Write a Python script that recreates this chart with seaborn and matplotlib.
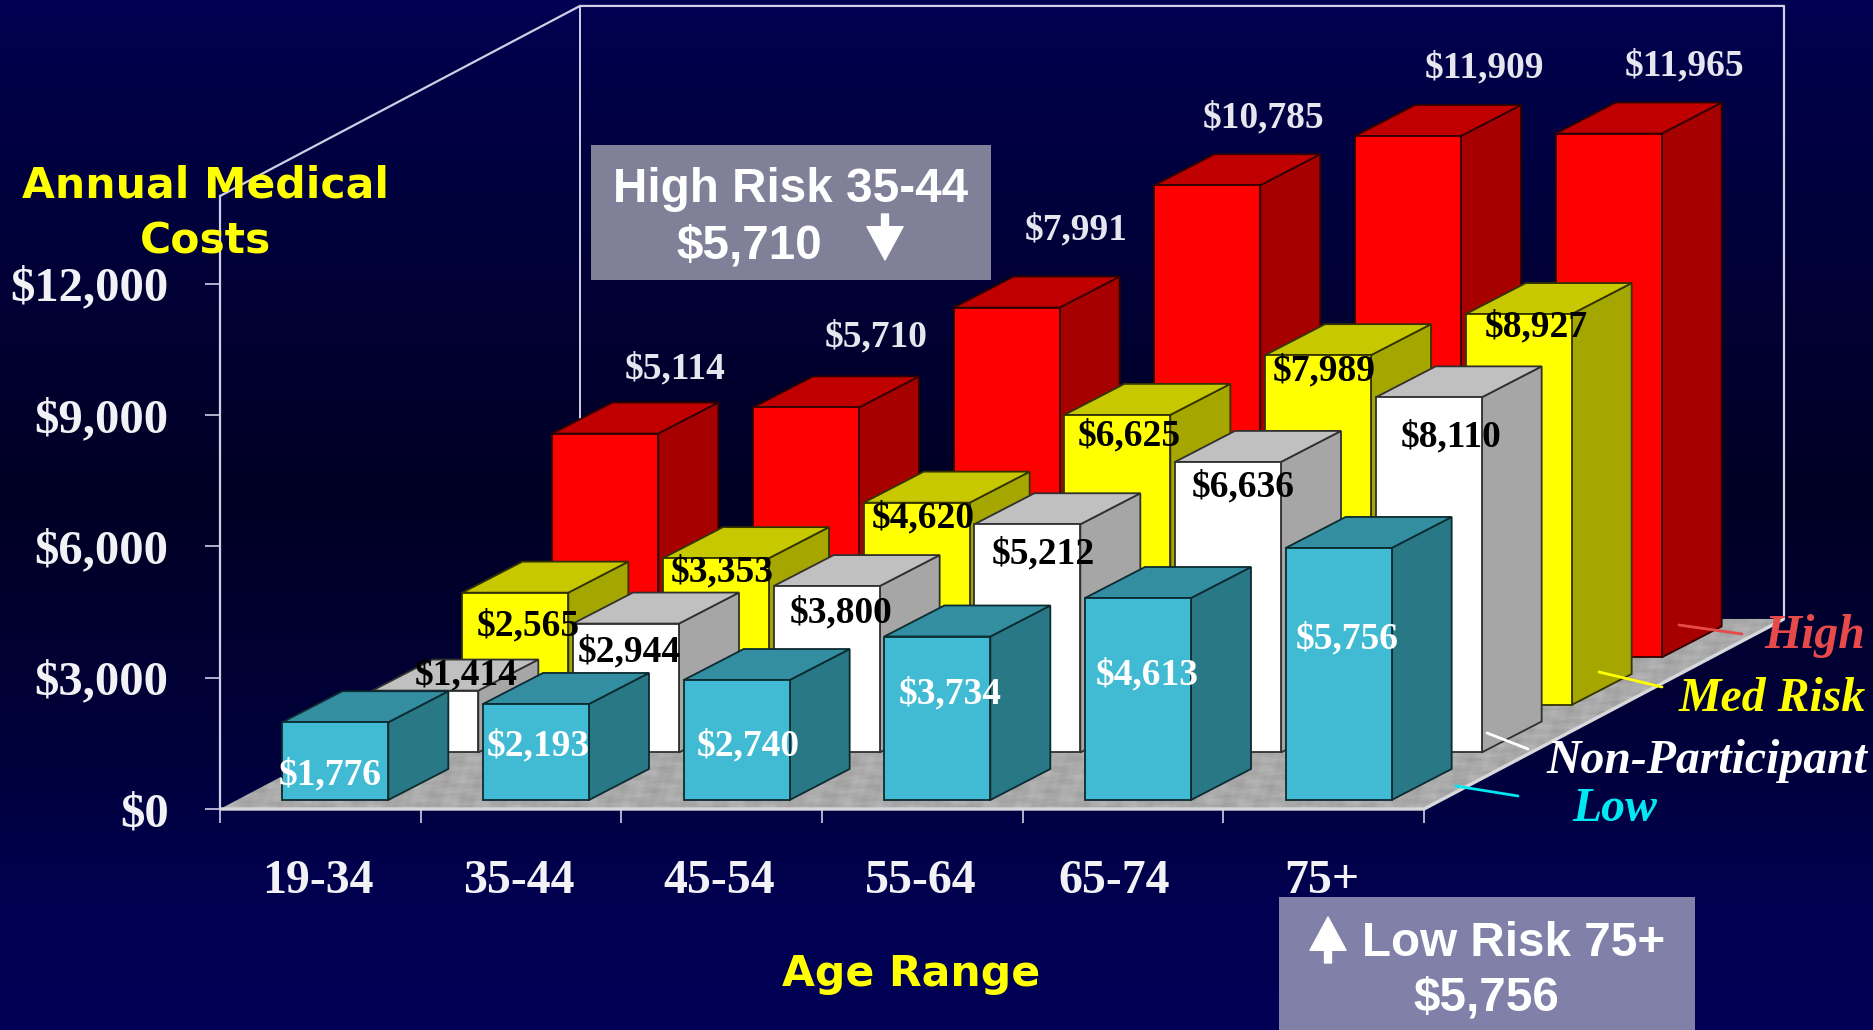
import matplotlib
matplotlib.use("Agg")
import matplotlib.pyplot as plt
import numpy as np
import pandas as pd
import seaborn as sns
from matplotlib.patches import Polygon, Rectangle

age_ranges = ["19-34", "35-44", "45-54", "55-64", "65-74", "75+"]
high_risk = [5114, 5710, 7991, 10785, 11909, 11965]
med_risk = [2565, 3353, 4620, 6625, 7989, 8927]
non_participant = [1414, 2944, 3800, 5212, 6636, 8110]
low_risk = [1776, 2193, 2740, 3734, 4613, 5756]
value_ticks = [0, 3000, 6000, 9000, 12000]

W, H = 1874, 1030
PX_PER_CAT = 200.67
PX_PER_USD = 0.04377
ROW_DX, ROW_DY = 90 / PX_PER_CAT, 47.5 / PX_PER_USD      # one depth row, in data units
DEPTH_DX, DEPTH_DY = 60 / PX_PER_CAT, 31 / PX_PER_USD    # depth of a single bar
INSET_DX, INSET_DY = 15 / PX_PER_CAT, 9 / PX_PER_USD     # gap between a row's front and its bars
BAR_WIDTH = 106 / PX_PER_CAT
YMAX = 14000
LABEL_DROP = 3  # px, lowers every value label slightly

# series drawn back to front: name, values, front, side, top, edge, label colour, label nudges in px
series = [
    ("High", high_risk, "#ff0000", "#a60000", "#c00000", "#300000", "#e6e6ee",
     [(70, 68), (70, 73), (70, 81), (56, 70), (76, 71), (76, 71)]),
    ("Med Risk", med_risk, "#ffff00", "#a6a600", "#c8c800", "#333300", "#000000",
     [(13, -30), (6, -11), (7, -12), (12, -18), (6, -13), (18, -10)]),
    ("Non-Participant", non_participant, "#ffffff", "#a6a6a6", "#c0c0c0", "#303030", "#000000",
     [(41, 19), (3, -25), (14, -24), (16, -27), (15, -22), (22, -37)]),
    ("Low", low_risk, "#40bbd3", "#287885", "#328ea0", "#0c2a30", "#ffffff",
     [(-5, -50), (2, -39), (12, -63), (13, -54), (9, -74), (9, -88)]),
]

sns.set_theme(style="white")
plt.rcParams["font.family"] = ["Liberation Serif", "DejaVu Sans"]
SERIF = dict(family="Liberation Serif", weight="bold")
SANS = dict(family="Liberation Sans", weight="bold")
HEADING = dict(family="DejaVu Sans", weight="bold", color="#ffff00", fontsize=30.6,
               ha="center", va="center")

fig = plt.figure(figsize=(W / 100, H / 100), dpi=100)

# vertical navy backdrop
bg = fig.add_axes([0, 0, 1, 1], zorder=0)
shade = np.interp(np.arange(H), [0, 90, 500, 760, 900, H], [82, 70, 36, 60, 80, 86])
backdrop = np.zeros((H, 2, 3))
backdrop[..., 2] = shade[:, None] / 255
bg.imshow(backdrop, aspect="auto", extent=(0, W, H, 0))
bg.axis("off")

# chart axes: covers the front plane of the box
ax = fig.add_axes([220 / W, (H - 809) / H, 1204 / W, 613 / H], zorder=1)
ax.patch.set_alpha(0)

x0, x1 = -0.5, 5.5
dx_all, dy_all = 4 * ROW_DX, 4 * ROW_DY
wall_color = "#cfcfe6"

# marbled floor: an image clipped to the floor outline, free to leave the axes box
floor_outline = Polygon([(x0, 0), (x1, 0), (x1 + dx_all, dy_all), (x0 + dx_all, dy_all)],
                        closed=True, fc="none", ec="none", clip_on=False)
ax.add_patch(floor_outline)
gx, gy = np.meshgrid(np.linspace(0, 1, 780), np.linspace(0, 1, 95))
marble = (np.sin(173.3 * gx + 41.7 * gy) * np.sin(61.1 * gy - 97.9 * gx + 1.3)
          + 0.7 * np.sin(311.7 * gx - 113.2 * gy + 0.4) * np.sin(149.6 * gy + 37.1 * gx)
          + 0.5 * np.sin(523.9 * gx + 197.3 * gy) * np.sin(229.7 * gy - 401.3 * gx))
floor_img = ax.imshow(170 + 8 * marble, cmap="gray", vmin=0, vmax=255, aspect="auto",
                      origin="lower", extent=(x0, x1 + dx_all, 0, dy_all), zorder=1,
                      interpolation="bilinear")
floor_img.set_clip_box(fig.bbox)
floor_img.set_clip_path(floor_outline)

ax.plot([x0, x1, x1 + dx_all], [0, 0, dy_all], color="#d8d8dc", lw=2.4, zorder=2,
        clip_on=False, solid_capstyle="butt")
ax.plot([x0, x0 + dx_all, x1 + dx_all, x1 + dx_all],
        [YMAX, YMAX + dy_all, YMAX + dy_all, dy_all],
        color=wall_color, lw=1.6, zorder=1, clip_on=False)
ax.plot([x0 + dx_all, x0 + dx_all], [dy_all, YMAX + dy_all], color=wall_color, lw=1.4,
        zorder=1, clip_on=False)

for row, (name, values, front, side, top, edge, label_color, nudges) in enumerate(series):
    depth_row = len(series) - 1 - row
    off_x = INSET_DX + depth_row * ROW_DX
    off_y = INSET_DY + depth_row * ROW_DY
    table = pd.DataFrame({"age": age_ranges, "cost": values})
    n_before = len(ax.patches)
    sns.barplot(data=table, x="age", y="cost", order=age_ranges, color=front, saturation=1,
                width=BAR_WIDTH, errorbar=None, edgecolor=edge, linewidth=1.3, ax=ax)
    bars = ax.patches[n_before:]
    base_z = 10 + row * 3
    for bar, value, nudge in zip(bars, values, nudges):
        left = bar.get_x() + off_x
        right = left + BAR_WIDTH
        bar.set_x(left)
        bar.set_y(off_y)
        bar.set_zorder(base_z + 1)
        bar.set_clip_on(False)
        ax.add_patch(Polygon([(right, off_y), (right + DEPTH_DX, off_y + DEPTH_DY),
                              (right + DEPTH_DX, off_y + DEPTH_DY + value), (right, off_y + value)],
                             closed=True, fc=side, ec=edge, lw=1.3, zorder=base_z, clip_on=False))
        ax.add_patch(Polygon([(left, off_y + value), (right, off_y + value),
                              (right + DEPTH_DX, off_y + DEPTH_DY + value),
                              (left + DEPTH_DX, off_y + DEPTH_DY + value)],
                             closed=True, fc=top, ec=edge, lw=1.3, zorder=base_z, clip_on=False))
        ax.annotate(f"${value:,}", xy=(left + BAR_WIDTH / 2, off_y + value),
                    xytext=(nudge[0], nudge[1] - LABEL_DROP), textcoords="offset pixels",
                    ha="center", va="center", color=label_color, fontsize=27, zorder=100,
                    annotation_clip=False, **SERIF)

ax.set_xlim(x0, x1)
ax.set_ylim(0, YMAX)
ax.set_xlabel("")
ax.set_ylabel("")

# ticks sit on category boundaries, labels on category centres
ax.set_xticks(np.arange(x0, x1 + 0.5, 1))
ax.set_xticklabels([])
ax.set_xticks(np.arange(6) + np.array([-0.01, -0.01, -0.01, -0.01, -0.045, -0.01]), minor=True)
ax.set_xticklabels(age_ranges, minor=True, color="#f2f2f6", fontsize=34.5, **SERIF)
ax.tick_params(axis="x", which="major", length=10, width=1.2, color=wall_color, bottom=True)
ax.tick_params(axis="x", which="minor", length=0, pad=36, bottom=False)
ax.set_yticks(value_ticks)
ax.set_yticklabels([f"${t:,}" for t in value_ticks], color="#f2f2f6", fontsize=35, **SERIF)
ax.tick_params(axis="y", length=11, width=1.2, color=wall_color, left=True, pad=26)
for name in ("top", "right", "bottom"):
    ax.spines[name].set_visible(False)
ax.spines["left"].set_color(wall_color)
ax.spines["left"].set_linewidth(1.6)

# annotation layer in pixel coordinates
top_layer = fig.add_axes([0, 0, 1, 1], zorder=2)
top_layer.set_xlim(0, W)
top_layer.set_ylim(H, 0)
top_layer.axis("off")

top_layer.text(206, 185, "Annual Medical", **HEADING)
top_layer.text(206, 242, "Costs", **HEADING)
top_layer.text(911, 974, "Age Range", **HEADING)

top_layer.add_patch(Rectangle((591, 145), 400, 135, fc="#808098", ec="none"))
top_layer.add_patch(Rectangle((1279, 897), 416, 133, fc="#8080a8", ec="none"))
top_layer.text(791, 190, "High Risk 35-44", color="white", fontsize=34.3, ha="center", va="center", **SANS)
top_layer.text(749, 246, "$5,710", color="white", fontsize=34.3, ha="center", va="center", **SANS)
top_layer.text(1514, 944, "Low Risk 75+", color="white", fontsize=34.3, ha="center", va="center", **SANS)
top_layer.text(1486, 998, "$5,756", color="white", fontsize=34.3, ha="center", va="center", **SANS)
top_layer.annotate("", xy=(885, 260), xytext=(885, 214),
                   arrowprops=dict(width=5, headwidth=26, headlength=24, color="white", shrink=0))
top_layer.annotate("", xy=(1328, 917), xytext=(1328, 963),
                   arrowprops=dict(width=5, headwidth=26, headlength=24, color="white", shrink=0))

# series names with short leaders to their floor rows
legend_rows = [
    ("High", "#e84a4a", (1865, 636), [(1679, 625), (1742, 634)]),
    ("Med Risk", "#ffff00", (1866, 699), [(1599, 672), (1662, 687)]),
    ("Non-Participant", "#ffffff", (1867, 761), [(1487, 733), (1528, 749)]),
    ("Low", "#00e8f0", (1657, 809), [(1456, 786), (1518, 796)]),
]
for label, color, (tx, ty), leader in legend_rows:
    top_layer.text(tx, ty, label, color=color, fontsize=34.4, ha="right", va="center",
                   family="Liberation Serif", weight="bold", style="italic")
    top_layer.plot(*zip(*leader), color=color, lw=2)

fig.savefig("out.png", dpi=100, facecolor="#000040")
